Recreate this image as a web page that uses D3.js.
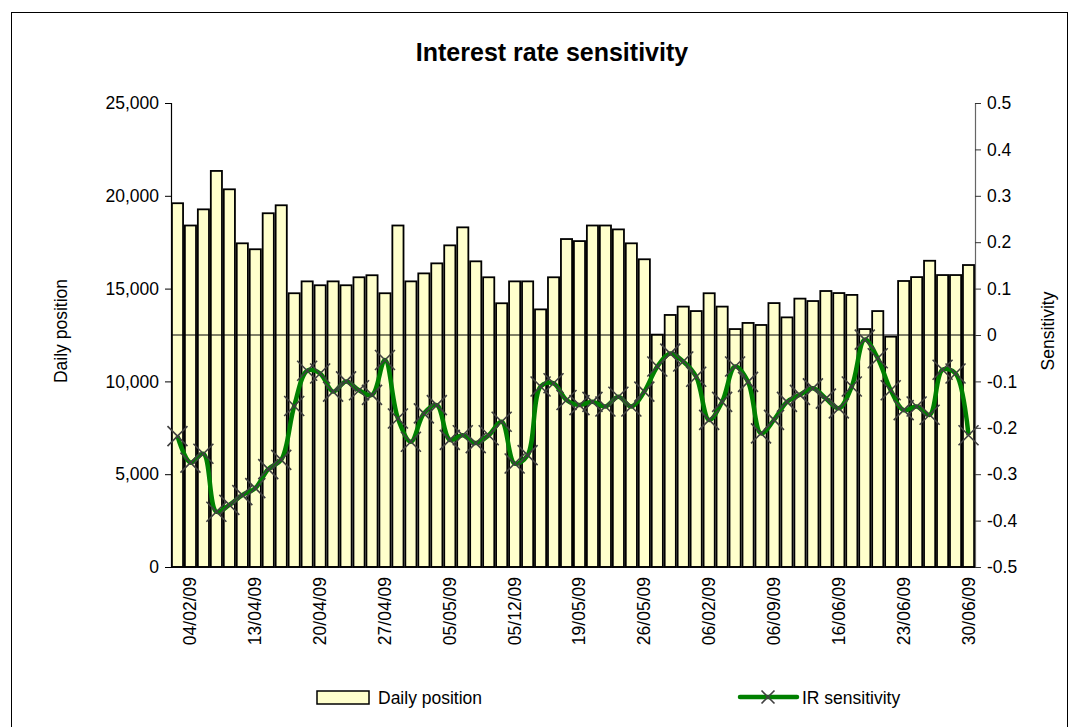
<!DOCTYPE html>
<html>
<head>
<meta charset="utf-8">
<script src="https://cdn.jsdelivr.net/npm/d3@7"></script>
<style>
  body { margin: 0; background: #fff; }
  svg { display: block; font-family: 'Liberation Sans', Arial, sans-serif; }
</style>
</head>
<body>
<svg id="chart" width="1071" height="727"></svg>
<script>
// daily position per trading day (left axis)
const positions = [
  19600, 18400, 19270, 21340, 20350, 17440, 17120, 19060, 19490, 14750,
  15390, 15180, 15390, 15180, 15610, 15720, 14750, 18400, 15390, 15820,
  16360, 17330, 18300, 16470, 15610, 14210, 15390, 15390, 13880, 15610,
  17670, 17560, 18400, 18400, 18190, 17440, 16580, 12520, 13580, 14030,
  13790, 14750, 14030, 12820, 13150, 13040, 14220, 13450, 14460, 14330,
  14870, 14760, 14660, 12820, 13790, 12410, 15410, 15620, 16500, 15730,
  15730, 16270
]

// IR sensitivity per trading day (right axis)
const sensitivity = [
  -0.218, -0.275, -0.256, -0.381, -0.366, -0.345, -0.330, -0.289, -0.269, -0.153,
  -0.077, -0.083, -0.122, -0.100, -0.119, -0.129, -0.054, -0.180, -0.230, -0.169,
  -0.151, -0.226, -0.216, -0.233, -0.216, -0.187, -0.277, -0.259, -0.111, -0.104,
  -0.140, -0.151, -0.144, -0.154, -0.133, -0.154, -0.122, -0.068, -0.040, -0.057,
  -0.090, -0.183, -0.144, -0.068, -0.101, -0.212, -0.183, -0.144, -0.129, -0.115,
  -0.137, -0.158, -0.111, -0.010, -0.050, -0.119, -0.162, -0.154, -0.172, -0.075,
  -0.083, -0.216
]

// category labels shown on the x axis and the day they sit on
const tickLabels = ['04/02/09', '13/04/09', '20/04/09', '27/04/09', '05/05/09', '05/12/09',
  '19/05/09', '26/05/09', '06/02/09', '06/09/09', '16/06/09', '23/06/09', '30/06/09']
const tickDays = [1, 6, 11, 16, 21, 26, 31, 36, 41, 46, 51, 56, 61]

const leftTicks = [0, 5000, 10000, 15000, 20000, 25000]
const rightTicks = [-0.5, -0.4, -0.3, -0.2, -0.1, 0, 0.1, 0.2, 0.3, 0.4, 0.5]

const svg = d3.select('#chart')
const plot = { left: 171, right: 975, top: 103, bottom: 567 }
const font = 17.5

// outer chart border
svg.append('rect')
  .attr('x', 11.5).attr('y', 12.5)
  .attr('width', 1056).attr('height', 740)
  .attr('fill', 'none').attr('stroke', '#000').attr('stroke-width', 1)

svg.append('text')
  .attr('x', 552)
  .attr('y', 61)
  .attr('text-anchor', 'middle')
  .style('font-size', '25px')
  .style('font-weight', 'bold')
  .text('Interest rate sensitivity')

const x = d3.scaleBand()
  .domain(d3.range(positions.length))
  .range([plot.left, plot.right])
  .paddingInner(0.14)
  .paddingOuter(0.07)

const yLeft = d3.scaleLinear().domain([0, 25000]).range([plot.bottom, plot.top])
const yRight = d3.scaleLinear().domain([-0.5, 0.5]).range([plot.bottom, plot.top])

// bars
svg.append('g')
  .selectAll('rect')
  .data(positions)
  .join('rect')
  .attr('x', (d, i) => x(i))
  .attr('y', d => yLeft(d))
  .attr('width', x.bandwidth())
  .attr('height', d => yLeft(0) - yLeft(d))
  .attr('fill', '#FFFFCC')
  .attr('stroke', '#000')
  .attr('stroke-width', 1.8)

// zero line of the sensitivity axis
svg.append('line')
  .attr('x1', plot.left).attr('x2', plot.right)
  .attr('y1', yRight(0)).attr('y2', yRight(0))
  .attr('stroke', '#000').attr('stroke-width', 1)

// left axis
const gl = svg.append('g')
  .attr('transform', `translate(${plot.left},0)`)
  .call(d3.axisLeft(yLeft).tickValues(leftTicks).tickFormat(d3.format(',')).tickSizeOuter(0).tickSize(6).tickPadding(6))
gl.select('.domain').attr('stroke', '#000').attr('stroke-width', 1.2)
gl.selectAll('.tick line').attr('stroke', '#000')
gl.selectAll('.tick text').style('font-size', font + 'px').attr('fill', '#000')

// right axis
const gr = svg.append('g')
  .attr('transform', `translate(${plot.right},0)`)
  .call(d3.axisRight(yRight).tickValues(rightTicks)
    .tickFormat(d => Math.abs(d) < 1e-9 ? '0' : d.toFixed(1))
    .tickSizeOuter(0).tickSize(6).tickPadding(6))
gr.select('.domain').attr('stroke', '#666').attr('stroke-width', 1.2)
gr.selectAll('.tick line').attr('stroke', '#333')
gr.selectAll('.tick text').style('font-size', font + 'px').attr('fill', '#000')

// bottom axis
svg.append('line')
  .attr('x1', plot.left).attr('x2', plot.right)
  .attr('y1', plot.bottom).attr('y2', plot.bottom)
  .attr('stroke', '#000').attr('stroke-width', 1.5)

svg.append('g')
  .selectAll('text')
  .data(tickLabels)
  .join('text')
  .attr('transform', (d, i) => `translate(${x(tickDays[i]) + x.bandwidth() / 2 + 6},${plot.bottom + 10}) rotate(-90)`)
  .attr('text-anchor', 'end')
  .style('font-size', font + 'px')
  .text(d => d)

// axis titles
svg.append('text')
  .attr('transform', `translate(67,${(plot.top + plot.bottom) / 2 - 4}) rotate(-90)`)
  .attr('text-anchor', 'middle')
  .style('font-size', font + 'px')
  .text('Daily position')

svg.append('text')
  .attr('transform', `translate(1054,${(plot.top + plot.bottom) / 2 - 4}) rotate(-90)`)
  .attr('text-anchor', 'middle')
  .style('font-size', font + 'px')
  .text('Sensitivity')

// sensitivity line
const line = d3.line()
  .x((d, i) => x(i) + x.bandwidth() / 2)
  .y(d => yRight(d))
  .curve(d3.curveCatmullRom.alpha(0.5))

svg.append('path')
  .datum(sensitivity)
  .attr('d', line)
  .attr('fill', 'none')
  .attr('stroke', '#008000')
  .attr('stroke-width', 4.5)
  .attr('stroke-linejoin', 'round')

const cross = s => `M${-s},${-s}L${s},${s}M${-s},${s}L${s},${-s}`

svg.append('g')
  .selectAll('path')
  .data(sensitivity)
  .join('path')
  .attr('transform', (d, i) => `translate(${x(i) + x.bandwidth() / 2},${yRight(d)})`)
  .attr('d', cross(10))
  .attr('stroke', '#404040')
  .attr('stroke-width', 1.6)
  .attr('fill', 'none')

// legend
const legend = svg.append('g')
legend.append('rect')
  .attr('x', 317).attr('y', 691)
  .attr('width', 52).attr('height', 13)
  .attr('fill', '#FFFFCC').attr('stroke', '#000').attr('stroke-width', 1.5)
legend.append('text')
  .attr('x', 378).attr('y', 704)
  .style('font-size', font + 'px')
  .text('Daily position')

legend.append('line')
  .attr('x1', 740).attr('x2', 797)
  .attr('y1', 697).attr('y2', 697)
  .attr('stroke', '#008000').attr('stroke-width', 4.5).attr('stroke-linecap', 'round')
legend.append('path')
  .attr('transform', 'translate(768,697)')
  .attr('d', cross(6.5))
  .attr('stroke', '#404040').attr('stroke-width', 1.6)
legend.append('text')
  .attr('x', 802).attr('y', 704)
  .style('font-size', font + 'px')
  .text('IR sensitivity')
</script>
</body>
</html>
